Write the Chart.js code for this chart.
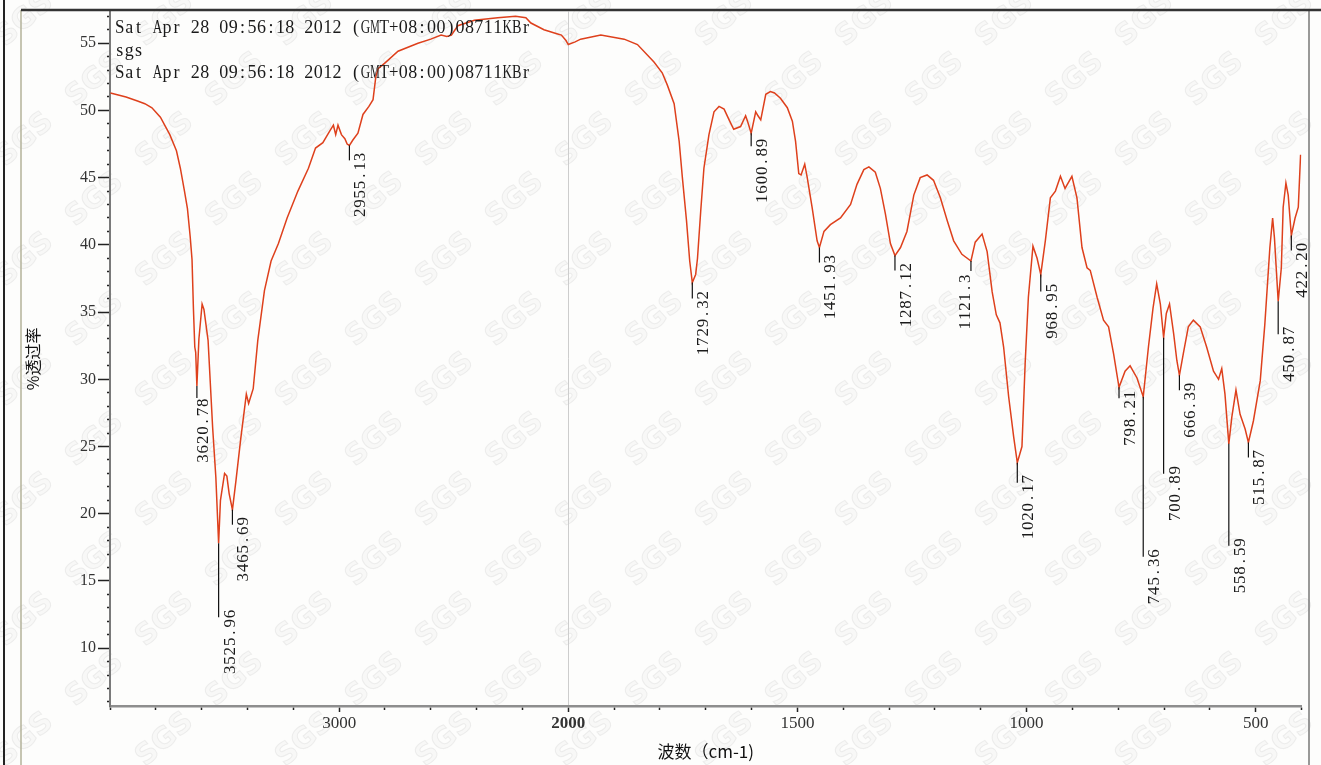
<!DOCTYPE html>
<html>
<head>
<meta charset="utf-8">
<script src="https://cdn.jsdelivr.net/npm/chart.js@4.4.1/dist/chart.umd.min.js"></script>
<style>
  html, body { margin: 0; padding: 0; background: #fdfdfc; }
  canvas { display: block; }
</style>
</head>
<body>
<canvas id="ir-chart" width="1321" height="765"></canvas>
<script>
// spectrum (cm-1 and %T)
const wavenumbers = [
  3998, 3930, 3880, 3848, 3817, 3780, 3739, 3710, 3693, 3675, 3662, 3650, 3642, 3636, 3630, 3626,
  3620.78, 3612, 3598, 3590, 3572, 3552, 3538, 3525.96, 3518, 3500, 3490, 3480, 3465.69, 3450,
  3430, 3405, 3395, 3375, 3355, 3326, 3297, 3265, 3227, 3180, 3134, 3103, 3071, 3040, 3025,
  3015, 3005, 2990, 2975, 2965, 2955.13, 2940, 2918, 2896, 2870, 2852, 2840, 2830, 2802, 2743,
  2656, 2600, 2555, 2530, 2510, 2482, 2410, 2308, 2230, 2185, 2163, 2106, 2050, 2030, 2010, 2000,
  1985, 1973, 1929, 1878, 1849, 1813, 1795, 1784, 1769, 1758, 1751, 1742, 1735, 1729.32, 1722,
  1718, 1711, 1704, 1693, 1682, 1671, 1660, 1649, 1639, 1624, 1613, 1608, 1600.89, 1591, 1586,
  1580, 1569, 1559, 1550, 1537, 1522, 1511, 1504, 1497, 1492, 1484, 1479, 1468, 1457, 1451.93,
  1442, 1428, 1406, 1384, 1370, 1355, 1344, 1330, 1319, 1308, 1297, 1287.12, 1275, 1261, 1246,
  1232, 1217, 1203, 1188, 1173, 1159, 1141, 1121.3, 1112, 1097, 1086, 1075, 1066, 1058, 1050,
  1039, 1028, 1020.17, 1010, 1003, 996, 986, 977, 968.95, 959, 948, 937, 926, 916, 901, 890,
  879, 868, 861, 846, 832, 821, 810, 798.21, 785, 774, 759, 745.36, 734, 724, 716, 708, 700.89,
  695, 688, 679, 672, 666.39, 658, 647, 636, 621, 607, 592, 581, 574, 567, 558.59, 552, 543,
  534, 523, 515.87, 505, 490, 480, 469, 463, 459, 450.87, 444, 440, 434, 429, 422.2, 414, 407, 402
];
const transmittance = [
  51.3, 51.0, 50.7, 50.5, 50.2, 49.5, 48.2, 47.0, 45.7, 44.0, 42.7, 40.6, 38.9, 35.3, 32.4, 32.0,
  29.5, 33.0, 35.6, 35.2, 32.9, 26.4, 22.7, 17.8, 21.0, 23.0, 22.8, 21.5, 20.3, 22.5,
  25.5, 28.9, 28.2, 29.3, 32.9, 36.6, 38.8, 40.1, 42.0, 44.0, 45.7, 47.2, 47.6, 48.5, 48.9,
  48.2, 48.9, 48.2, 47.9, 47.5, 47.4, 47.8, 48.3, 49.7, 50.3, 50.8, 52.5, 53.1, 53.5, 54.4,
  55.0, 55.3, 55.6, 55.5, 55.6, 56.3, 56.7, 56.9, 57.0, 56.9, 56.5, 56.0, 55.7, 55.6, 55.2, 54.9,
  55.1, 55.3, 55.6, 55.3, 54.9, 53.6, 52.8, 51.9, 50.5, 47.7, 45.0, 41.8, 38.8, 37.2, 37.8,
  39.0, 42.5, 45.7, 48.2, 49.9, 50.3, 50.1, 49.3, 48.6, 48.8, 49.6, 49.1, 48.3, 49.9, 49.6,
  49.3, 51.2, 51.4, 51.3, 50.9, 50.2, 49.2, 47.7, 45.3, 45.2, 46.0, 45.1, 42.8, 40.3, 39.8,
  41.0, 41.5, 42.0, 43.0, 44.5, 45.6, 45.8, 45.4, 44.2, 42.3, 40.1, 39.2, 39.8, 41.0, 43.7,
  45.0, 45.2, 44.8, 43.5, 41.8, 40.3, 39.3, 38.8, 40.2, 40.8, 39.5, 36.5, 34.8, 34.2, 32.4,
  28.7, 25.7, 23.8, 25.0, 31.2, 36.1, 39.9, 39.0, 37.8, 40.3, 43.5, 44.0, 45.1, 44.2, 45.1, 43.5,
  39.8, 38.3, 38.1, 36.1, 34.4, 33.9, 31.9, 29.4, 30.6, 31.0, 30.1, 28.7, 32.4, 35.3, 37.1, 35.6, 33.1,
  34.9, 35.6, 33.4, 31.4, 30.3, 31.9, 33.9, 34.4, 33.9, 32.4, 30.6, 30.0, 30.8, 28.9, 25.2, 27.2, 29.2,
  27.4, 26.3, 25.3, 26.9, 29.9, 34.1, 39.8, 42.0, 40.5, 35.8, 38.3, 42.8, 44.6, 43.7, 40.7, 42.0, 42.8, 46.7
];
const xTickLabels = [3000, 2000, 1500, 1000, 500];
const yTickLabels = [10, 15, 20, 25, 30, 35, 40, 45, 50, 55];
const peakWavenumbers = [3620.78, 3525.96, 3465.69, 2955.13, 1729.32, 1600.89, 1451.93, 1287.12, 1121.3,
  1020.17, 968.95, 798.21, 745.36, 700.89, 666.39, 558.59, 515.87, 450.87, 422.2];
const peakLabels = ['3620.78', '3525.96', '3465.69', '2955.13', '1729.32', '1600.89', '1451.93', '1287.12', '1121.3',
  '1020.17', '968.95', '798.21', '745.36', '700.89', '666.39', '558.59', '515.87', '450.87', '422.20'];
const headerLines = [
  'Sat Apr 28 09:56:18 2012 (GMT+08:00)08711KBr',
  'sgs',
  'Sat Apr 28 09:56:18 2012 (GMT+08:00)08711KBr'
];

// the x axis is compressed 2:1 above 2000 cm-1, like the instrument printout
const toAxis = (w) => (w > 2000 ? 2000 + (w - 2000) / 2 : w);
const fromAxis = (p) => (p > 2000 ? 2000 + (p - 2000) * 2 : p);

const points = wavenumbers.map((w, i) => ({ x: toAxis(w), y: transmittance[i] }));

// draws text on a fixed pitch, like the plotter's monospaced font
function drawMono(ctx, text, x, y, pitch) {
  ctx.textAlign = 'center';
  for (let i = 0; i < text.length; i++) {
    const ch = text[i];
    const w = ctx.measureText(ch).width;
    const cx = x + pitch * i + pitch / 2;
    if (w > pitch) {
      ctx.save();
      ctx.translate(cx, y);
      ctx.scale(pitch / w, 1);
      ctx.fillText(ch, 0, 0);
      ctx.restore();
    } else {
      ctx.fillText(ch, cx, y);
    }
  }
}

const pageDecor = {
  id: 'pageDecor',
  beforeDraw(chart) {
    const ctx = chart.ctx;
    ctx.save();
    ctx.fillStyle = '#fdfdfc';
    ctx.fillRect(0, 0, chart.width, chart.height);
    // SGS watermark, faint outlined letters
    ctx.font = 'bold 29px "DejaVu Sans"';
    ctx.textAlign = 'center';
    ctx.textBaseline = 'middle';
    ctx.fillStyle = 'rgba(225,225,225,0.18)';
    ctx.strokeStyle = 'rgba(185,185,185,0.22)';
    ctx.lineWidth = 1;
    for (let row = 0; row < 14; row++) {
      for (let col = 0; col < 11; col++) {
        const x = col * 140 + (row % 2) * 70 + 25;
        const y = row * 60 + 20;
        ctx.save();
        ctx.translate(x, y);
        ctx.rotate(-0.72);
        ctx.fillText('SGS', 0, 0);
        ctx.strokeText('SGS', 0, 0);
        ctx.restore();
      }
    }
    ctx.restore();
  },
  afterDraw(chart, args, opts) {
    const ctx = chart.ctx;
    const xs = chart.scales.x;
    const ys = chart.scales.y;
    ctx.save();

    // page frame
    ctx.lineCap = 'butt';
    ctx.strokeStyle = '#222';
    ctx.lineWidth = 2;
    ctx.beginPath(); ctx.moveTo(4, 0); ctx.lineTo(4, 765); ctx.stroke();
    ctx.strokeStyle = '#b3b29a';
    ctx.lineWidth = 1.5;
    ctx.beginPath(); ctx.moveTo(21, 10); ctx.lineTo(21, 765); ctx.stroke();
    ctx.strokeStyle = '#777';
    ctx.beginPath(); ctx.moveTo(1309, 10); ctx.lineTo(1309, 765); ctx.stroke();
    ctx.strokeStyle = '#333';
    ctx.lineWidth = 2.5;
    ctx.beginPath(); ctx.moveTo(21, 10); ctx.lineTo(1321, 10); ctx.stroke();

    // header text
    ctx.fillStyle = '#1a1a1a';
    ctx.font = '18px "Liberation Serif"';
    ctx.textBaseline = 'alphabetic';
    headerLines.forEach((line, i) => drawMono(ctx, line, 115, 33 + i * 22.5, 9.45));

    // peak markers
    ctx.beginPath();
    ctx.rect(0, 0, 1308, chart.height);
    ctx.clip();
    ctx.font = '17px "Liberation Serif"';
    peakWavenumbers.forEach((w, i) => {
      const idx = wavenumbers.indexOf(w);
      const px = xs.getPixelForValue(toAxis(w));
      const py = ys.getPixelForValue(transmittance[idx]);
      const o = opts.marks[i];
      const end = py + o.drop;
      ctx.strokeStyle = '#111';
      ctx.lineWidth = 1.2;
      ctx.beginPath();
      ctx.moveTo(px, py);
      ctx.lineTo(px, end);
      ctx.stroke();
      const text = peakLabels[i];
      ctx.save();
      ctx.translate(px + (o.dx ?? 4), end + (o.dy ?? -8));
      ctx.rotate(-Math.PI / 2);
      ctx.fillStyle = '#1a1a1a';
      ctx.textBaseline = 'alphabetic';
      drawMono(ctx, text, -9.3 * text.length, 12, 9.3);
      ctx.restore();
    });
    ctx.restore();
  }
};

const ctx = document.getElementById('ir-chart').getContext('2d');

new Chart(ctx, {
  type: 'line',
  data: {
    datasets: [{
      data: points,
      borderColor: '#de401c',
      borderWidth: 1.5,
      pointRadius: 0,
      tension: 0,
      fill: false
    }]
  },
  options: {
    responsive: false,
    animation: false,
    layout: { padding: { top: 10, right: 19.5, left: 0, bottom: 0 } },
    plugins: {
      legend: { display: false },
      tooltip: { enabled: false },
      pageDecor: {
        marks: [
          { drop: 12, dx: -1, dy: 0 },
          { drop: 74 },
          { drop: 15 },
          { drop: 15 },
          { drop: 16 },
          { drop: 13 },
          { drop: 15 },
          { drop: 15 },
          { drop: 10, dx: -13, dy: 3 },
          { drop: 20 },
          { drop: 17 },
          { drop: 11 },
          { drop: 160 },
          { drop: 136 },
          { drop: 15 },
          { drop: 102 },
          { drop: 15 },
          { drop: 33 },
          { drop: 15 }
        ]
      }
    },
    scales: {
      x: {
        type: 'linear',
        reverse: true,
        min: 400,
        max: 3000,
        afterBuildTicks: (scale) => {
          const t = [];
          for (let p = 400; p <= 3000; p += 100) t.push({ value: p });
          scale.ticks = t;
        },
        afterFit: (scale) => { scale.height = 59; },
        ticks: {
          autoSkip: false,
          maxRotation: 0,
          padding: 1,
          color: '#333',
          font: (c) => ({
            family: 'Liberation Serif',
            size: 17,
            weight: c.tick && c.tick.value === 2000 ? 'bold' : 'normal'
          }),
          callback: (value) => {
            const w = fromAxis(value);
            return xTickLabels.includes(w) ? String(w) : '';
          }
        },
        grid: {
          drawOnChartArea: true,
          color: (c) => (c.tick && c.tick.value === 2000 ? '#cdcdcd' : 'rgba(0,0,0,0)'),
          lineWidth: 1,
          tickLength: 6,
          tickColor: '#222',
          tickWidth: 1.5,
          tickBorderDash: (c) => (c.tick && xTickLabels.includes(fromAxis(c.tick.value)) ? [] : [2.5, 100])
        },
        border: { display: true, color: '#8e8e8e', width: 2.5 },
        title: {
          display: true,
          text: '波数（cm-1)',
          color: '#111',
          font: { family: 'Noto Sans CJK SC', size: 17 },
          padding: { top: 0, bottom: 3 }
        }
      },
      y: {
        min: 5.7,
        max: 57.35,
        afterBuildTicks: (scale) => {
          const t = [];
          for (let v = 6; v <= 57; v++) t.push({ value: v });
          scale.ticks = t;
        },
        afterFit: (scale) => { scale.width = 110; },
        ticks: {
          autoSkip: false,
          padding: 2,
          color: '#333',
          font: { family: 'Liberation Serif', size: 16 },
          callback: (value) => (yTickLabels.includes(value) ? String(value) : '')
        },
        grid: {
          drawOnChartArea: false,
          tickLength: 12,
          tickColor: '#222',
          tickWidth: 1.5,
          tickBorderDash: (c) => (c.tick && yTickLabels.includes(c.tick.value) ? [] : [3, 100]),
          tickBorderDashOffset: (c) => (c.tick && yTickLabels.includes(c.tick.value) ? 0 : 94)
        },
        border: { display: true, color: '#7a7a7a', width: 2 },
        title: {
          display: true,
          text: '%透过率',
          color: '#111',
          font: { family: 'Noto Sans CJK SC', size: 16 },
          padding: { top: 23, bottom: 0 }
        }
      }
    }
  },
  plugins: [pageDecor]
});
</script>
</body>
</html>
